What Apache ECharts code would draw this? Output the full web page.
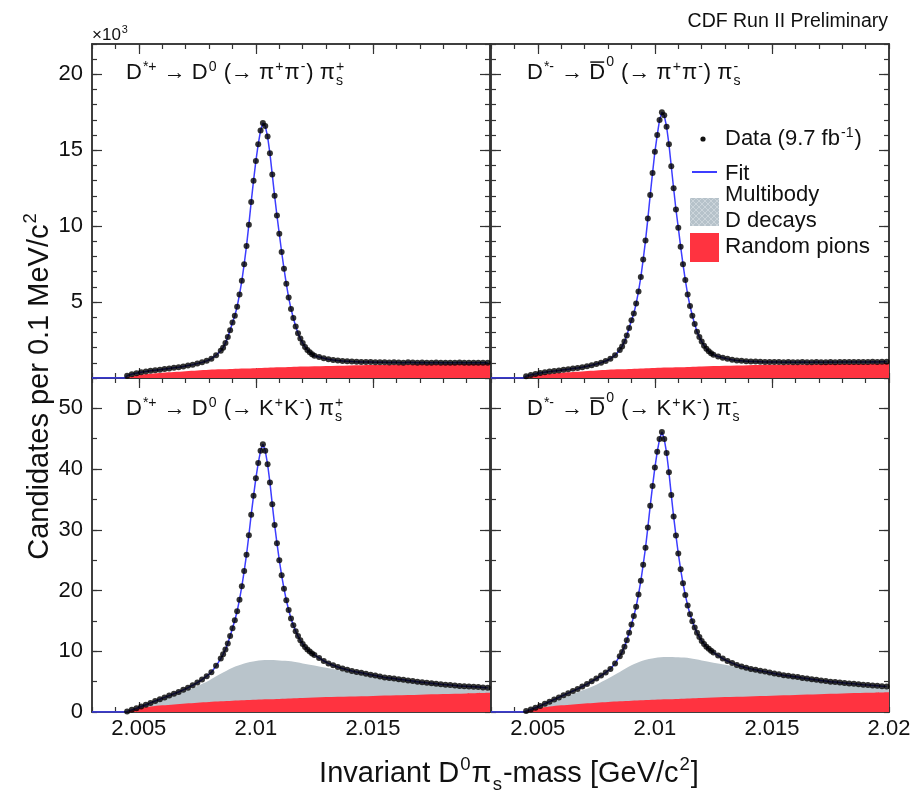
<!DOCTYPE html>
<html>
<head>
<meta charset="utf-8">
<script src="https://cdn.jsdelivr.net/npm/echarts@6/dist/echarts.min.js"></script>
<style>
html, body { margin: 0; background: #fff; }
#main { width: 918px; height: 792px; }
</style>
</head>
<body>
<div id="main"></div>
<script>
// bin centres, GeV/c^2 (0.1 MeV bins in the peak, every other bin in the tails)
var massBins = [
  2.0045, 2.0047, 2.0049, 2.0051, 2.0053, 2.0055, 2.0057, 2.0059, 2.0061, 2.0063,
  2.0065, 2.0067, 2.0069, 2.0071, 2.0073, 2.0075, 2.0077, 2.0079, 2.0081, 2.0083,
  2.0085, 2.0086, 2.0087, 2.0088, 2.0089, 2.0090, 2.0091, 2.0092, 2.0093, 2.0094,
  2.0095, 2.0096, 2.0097, 2.0098, 2.0099, 2.0100, 2.0101, 2.0102, 2.0103, 2.0104,
  2.0105, 2.0106, 2.0107, 2.0108, 2.0109, 2.0110, 2.0111, 2.0112, 2.0113, 2.0114,
  2.0115, 2.0116, 2.0117, 2.0118, 2.0119, 2.0120, 2.0121, 2.0122, 2.0123, 2.0124,
  2.0125,
  2.0127, 2.0129, 2.0131, 2.0133, 2.0135, 2.0137, 2.0139, 2.0141, 2.0143, 2.0145,
  2.0147, 2.0149, 2.0151, 2.0153, 2.0155, 2.0157, 2.0159, 2.0161, 2.0163, 2.0165,
  2.0167, 2.0169, 2.0171, 2.0173, 2.0175, 2.0177, 2.0179, 2.0181, 2.0183, 2.0185,
  2.0187, 2.0189, 2.0191, 2.0193, 2.0195, 2.0197, 2.0199
];

// candidates (x10^3) D*+ -> D0(pi pi) pi_s
var dataPiPiPlus = [
  0.15, 0.25, 0.32, 0.38, 0.43, 0.47, 0.51, 0.55, 0.59, 0.63,
  0.67, 0.71, 0.76, 0.82, 0.88, 0.95, 1.03, 1.13, 1.27, 1.5,
  1.8, 2.0, 2.3, 2.7, 3.15, 3.65, 4.1, 4.7, 5.5, 6.4,
  7.5, 8.7, 10.1, 11.6, 13.0, 14.3, 15.4, 16.3, 16.8, 16.6,
  15.9, 14.8, 13.4, 12.0, 10.7, 9.5, 8.3, 7.2, 6.2, 5.3,
  4.55, 3.95, 3.4, 2.95, 2.6, 2.3, 2.05, 1.85, 1.7, 1.57,
  1.47,
  1.38, 1.3, 1.24, 1.19, 1.15, 1.12, 1.1, 1.08, 1.07, 1.06,
  1.05, 1.05, 1.04, 1.03, 1.04, 1.02, 1.03, 1.02, 1.01, 1.03,
  1.02, 1.0, 1.02, 1.01, 1.0, 1.02, 1.01, 1.0, 1.01, 1.0,
  1.02, 1.0, 1.01, 1.0, 1.01, 1.0, 1.0
];
// D*- -> D0bar(pi pi) pi_s
var dataPiPiMinus = [
  0.12, 0.2, 0.27, 0.33, 0.38, 0.42, 0.46, 0.5, 0.54, 0.58,
  0.62, 0.66, 0.71, 0.77, 0.84, 0.92, 1.01, 1.12, 1.27, 1.5,
  1.85, 2.08, 2.4, 2.8, 3.3, 3.8, 4.25, 4.9, 5.7, 6.65,
  7.8, 9.05, 10.5, 12.05, 13.5, 14.9, 16.0, 17.0, 17.5, 17.3,
  16.55, 15.4, 13.95, 12.5, 11.1, 9.9, 8.65, 7.5, 6.45, 5.5,
  4.75, 4.1, 3.55, 3.05, 2.7, 2.4, 2.13, 1.92, 1.77, 1.63,
  1.53,
  1.42, 1.33, 1.26, 1.2, 1.16, 1.13, 1.11, 1.09, 1.08, 1.07,
  1.06, 1.06, 1.05, 1.05, 1.04, 1.05, 1.04, 1.03, 1.05, 1.04,
  1.04, 1.05, 1.03, 1.04, 1.05, 1.04, 1.05, 1.06, 1.05, 1.05,
  1.06, 1.05, 1.06, 1.07, 1.06, 1.07, 1.07
];
// D*+ -> D0(K K) pi_s
var dataKKPlus = [
  0.1, 0.35, 0.6, 0.9, 1.2, 1.5, 1.8, 2.1, 2.4, 2.7,
  3.0, 3.3, 3.65, 4.0, 4.4, 4.85, 5.35, 5.9, 6.55, 7.6,
  8.8, 9.5, 10.3, 11.3, 12.5, 13.8, 15.1, 16.6, 18.5, 20.7,
  23.2, 25.9, 29.1, 32.5, 35.6, 38.5, 41.0, 43.0, 44.1, 43.0,
  40.8, 37.8, 34.2, 30.8, 27.8, 25.0, 22.5, 20.3, 18.4, 16.8,
  15.4, 14.3, 13.3, 12.5, 11.8, 11.2, 10.7, 10.3, 9.95, 9.65,
  9.4,
  8.9, 8.4, 8.0, 7.7, 7.4, 7.15, 6.95, 6.75, 6.6, 6.45,
  6.3, 6.15, 6.0, 5.85, 5.7, 5.6, 5.5, 5.4, 5.3, 5.2,
  5.1, 5.0, 4.9, 4.8, 4.72, 4.64, 4.56, 4.5, 4.43, 4.37,
  4.3, 4.25, 4.2, 4.15, 4.1, 4.05, 4.0
];
// D*- -> D0bar(K K) pi_s
var dataKKMinus = [
  0.15, 0.4, 0.7, 1.0, 1.35, 1.7, 2.05, 2.4, 2.75, 3.1,
  3.45, 3.8, 4.2, 4.6, 5.05, 5.5, 6.0, 6.5, 7.1, 8.0,
  9.2, 9.9, 10.75, 11.8, 13.05, 14.4, 15.8, 17.35, 19.35, 21.6,
  24.25, 27.05, 30.4, 33.95, 37.2, 40.25, 42.85, 44.95, 46.1, 44.95,
  42.65, 39.5, 35.75, 32.2, 29.05, 26.1, 23.5, 21.2, 19.25, 17.55,
  16.1, 14.95, 13.9, 13.05, 12.35, 11.7, 11.2, 10.75, 10.4, 10.1,
  9.8,
  9.3, 8.8, 8.4, 8.05, 7.75, 7.5, 7.3, 7.1, 6.95, 6.8,
  6.65, 6.5, 6.35, 6.2, 6.05, 5.95, 5.85, 5.75, 5.6, 5.5,
  5.4, 5.3, 5.2, 5.1, 5.0, 4.93, 4.85, 4.78, 4.71, 4.64,
  4.57, 4.5, 4.44, 4.38, 4.32, 4.26, 4.2
];
// fit is zero below threshold
var fitBelowThreshold = [[2.003, 0], [2.0044, 0]];

// background components on a coarse grid
var bkgMass = [2.0044, 2.0046, 2.005, 2.0055, 2.006, 2.0065, 2.007, 2.0075, 2.008, 2.0085, 2.009, 2.0095,
  2.010, 2.0105, 2.011, 2.0115, 2.012, 2.013, 2.014, 2.015, 2.016, 2.017, 2.018, 2.019, 2.020];
var pionsPiPiPlus = [0, 0.08, 0.2, 0.28, 0.35, 0.4, 0.45, 0.5, 0.54, 0.57, 0.6, 0.63,
  0.65, 0.68, 0.7, 0.72, 0.75, 0.79, 0.83, 0.86, 0.88, 0.9, 0.91, 0.92, 0.93];
var pionsPiPiMinus = [0, 0.08, 0.2, 0.28, 0.35, 0.4, 0.45, 0.5, 0.54, 0.57, 0.6, 0.63,
  0.66, 0.69, 0.71, 0.73, 0.76, 0.8, 0.84, 0.87, 0.89, 0.91, 0.92, 0.93, 0.94];
var pionsKKPlus = [0, 0.2, 0.6, 0.9, 1.1, 1.25, 1.4, 1.53, 1.65, 1.75, 1.85, 1.93,
  2.0, 2.08, 2.15, 2.22, 2.3, 2.45, 2.55, 2.65, 2.75, 2.85, 2.95, 3.05, 3.15];
var multibodyKKPlus = [0, 0.05, 0.1, 0.4, 1.0, 1.55, 2.1, 2.77, 3.55, 4.55, 5.45, 6.07,
  6.4, 6.47, 6.35, 6.13, 5.7, 4.85, 4.05, 3.25, 2.55, 1.95, 1.35, 0.85, 0.4];
var pionsKKMinus = [0, 0.2, 0.6, 0.9, 1.1, 1.25, 1.4, 1.53, 1.65, 1.75, 1.85, 1.93,
  2.0, 2.08, 2.15, 2.22, 2.3, 2.45, 2.57, 2.68, 2.8, 2.92, 3.04, 3.15, 3.25];
var multibodyKKMinus = [0, 0.05, 0.15, 0.5, 1.1, 1.75, 2.3, 2.97, 3.85, 4.85, 5.85, 6.57,
  6.9, 6.97, 6.85, 6.63, 6.2, 5.35, 4.53, 3.67, 2.9, 2.23, 1.61, 1.05, 0.55];

// ticks
var xMajorTicks = [2.005, 2.01, 2.015];
var xLabelsLeft = [2.005, 2.01, 2.015];
var xLabelsRight = [2.005, 2.01, 2.015, 2.02];
var yTopTicks = [5, 10, 15, 20];
var yTopLabels = [5, 10, 15, 20];
var yBottomTicks = [10, 20, 30, 40, 50];
var yBottomLabels = [0, 10, 20, 30, 40, 50];

var FONT = '"Liberation Sans", Arial, Helvetica, sans-serif';
var FRAME = '#333';
var INK = '#111';
var RED = '#ff3340';
var BLUE = '#3d3dff';
var GREY = '#b9c4cb';

// hatched fill for the legend box
var hatch = document.createElement('canvas');
hatch.width = 6; hatch.height = 6;
var hc = hatch.getContext('2d');
hc.fillStyle = '#b6c2ca'; hc.fillRect(0, 0, 6, 6);
hc.strokeStyle = '#ccd5db'; hc.lineWidth = 1;
hc.beginPath(); hc.moveTo(0, 6); hc.lineTo(6, 0); hc.moveTo(0, 0); hc.lineTo(6, 6); hc.stroke();
var HATCH = { image: hatch, repeat: 'repeat' };

// ---- text with super/subscripts ----
var mctx = document.createElement('canvas').getContext('2d');
function tw(t, size) { mctx.font = size + 'px ' + FONT; return mctx.measureText(t).width; }
function piece(t, x, base, size) {
  return { type: 'text', x: x, y: base - 0.35 * size, silent: true,
    style: { text: t, font: size + 'px ' + FONT, fill: INK,
      textAlign: 'left', textVerticalAlign: 'middle', align: 'left', verticalAlign: 'middle' } };
}
function formula(segs, size, center) {
  var out = [], x = 0, s2 = size * 0.64;
  segs.forEach(function (s) {
    var t = s[0], k = s[1] || '';
    if (k === '^') { out.push(piece(t, x + 1, -size * 0.42, s2)); x += tw(t, s2) + 2; }
    else if (k === '^^') { out.push(piece(t, x + 1, -size * 0.62, s2)); x += tw(t, s2) + 2; }
    else if (k === '_') { out.push(piece(t, x + 1, size * 0.24, s2)); x += tw(t, s2) + 2; }
    else if (k === '_^') {
      out.push(piece(t, x + 1, size * 0.24, s2));
      out.push(piece(s[2], x + 1, -size * 0.42, s2));
      x += Math.max(tw(t, s2), tw(s[2], s2)) + 2;
    } else if (k === 'bar') {
      var w = tw(t, size);
      out.push(piece(t, x, 0, size));
      out.push({ type: 'line', silent: true, shape: { x1: x + 1, y1: -size * 0.86, x2: x + w - 1, y2: -size * 0.86 },
        style: { stroke: INK, lineWidth: 1.5 } });
      x += w;
    } else { out.push(piece(t, x, 0, size)); x += tw(t, size); }
  });
  if (center) {
    out.forEach(function (e) {
      if (e.type === 'line') { e.shape.x1 -= x / 2; e.shape.x2 -= x / 2; } else { e.x -= x / 2; }
    });
  }
  return out;
}
function label(x, y, segs, size, center, rot) {
  return { type: 'group', x: x, y: y, rotation: rot || 0, children: formula(segs, size, center) };
}

var labPiPiPlus = [['D'], ['*+', '^'], [' \u2192 D'], ['0', '^'], [' (\u2192 \u03c0'], ['+', '^'], ['\u03c0'], ['-', '^'], [') \u03c0'], ['s', '_^', '+']];
var labPiPiMinus = [['D'], ['*-', '^'], [' \u2192 '], ['D', 'bar'], ['0', '^^'], [' (\u2192 \u03c0'], ['+', '^'], ['\u03c0'], ['-', '^'], [') \u03c0'], ['s', '_^', '-']];
var labKKPlus = [['D'], ['*+', '^'], [' \u2192 D'], ['0', '^'], [' (\u2192 K'], ['+', '^'], ['K'], ['-', '^'], [') \u03c0'], ['s', '_^', '+']];
var labKKMinus = [['D'], ['*-', '^'], [' \u2192 '], ['D', 'bar'], ['0', '^^'], [' (\u2192 K'], ['+', '^'], ['K'], ['-', '^'], [') \u03c0'], ['s', '_^', '-']];

var cdfText = 'CDF Run II Preliminary';

var graphics = [
  label(888 - tw(cdfText, 19.5), 28, [[cdfText]], 19.5),
  label(92, 41, [['\u00d710'], ['3', '^']], 17),
  label(126, 81, labPiPiPlus, 22),
  label(527, 81, labPiPiMinus, 22),
  label(126, 417, labKKPlus, 22),
  label(527, 417, labKKMinus, 22),
  label(509, 784, [['Invariant D'], ['0', '^'], ['\u03c0'], ['s', '_'], ['-mass [GeV/c'], ['2', '^'], [']']], 29, true),
  label(50, 386, [['Candidates per 0.1 MeV/c'], ['2', '^']], 29, true, Math.PI / 2),
  // legend
  { type: 'circle', silent: true, shape: { cx: 703, cy: 139, r: 2.6 }, style: { fill: INK } },
  label(725, 147, [['Data (9.7 fb'], ['-1', '^'], [')']], 22),
  { type: 'line', silent: true, shape: { x1: 692, y1: 172, x2: 717, y2: 172 }, style: { stroke: BLUE, lineWidth: 2 } },
  label(725, 182, [['Fit']], 22),
  { type: 'rect', silent: true, shape: { x: 690, y: 198, width: 29, height: 28 }, style: { fill: HATCH } },
  label(725, 203, [['Multibody']], 22),
  label(725, 229, [['D decays']], 22),
  { type: 'rect', silent: true, shape: { x: 690, y: 233, width: 29, height: 29 }, style: { fill: RED } },
  label(725, 255, [['Random pions']], 22.5)
];

// ---- axes ----
var grids = [
  { left: 92, top: 44, width: 398, height: 334 },
  { left: 491, top: 44, width: 398, height: 334 },
  { left: 92, top: 378, width: 398, height: 334 },
  { left: 491, top: 378, width: 398, height: 334 }
];
var tickStyle = { color: FRAME, width: 1.2 };
var axisLine = { show: true, onZero: false, lineStyle: { color: FRAME, width: 1.5 } };
var tickFont = { fontSize: 22, color: INK, fontFamily: FONT };

var xAxes = [], yAxes = [];
function addAxes(g, xLabels, yMax, yMinor, yTicks, yLabels) {
  ['bottom', 'top'].forEach(function (pos) {
    var common = { gridIndex: g, type: 'value', min: 2.003, max: 2.020, position: pos,
      axisLine: axisLine, splitLine: { show: false } };
    xAxes.push(Object.assign({}, common, { interval: 0.001,
      axisTick: { inside: true, length: 5, lineStyle: tickStyle }, axisLabel: { show: false } }));
    var lab = (pos === 'bottom' && xLabels) ?
      Object.assign({ show: true, customValues: xLabels, margin: 6 }, tickFont) : { show: false };
    xAxes.push(Object.assign({}, common, {
      axisTick: { inside: true, length: 10, customValues: xMajorTicks, lineStyle: tickStyle }, axisLabel: lab }));
  });
  ['left', 'right'].forEach(function (pos) {
    var common = { gridIndex: g, type: 'value', min: 0, max: yMax, position: pos,
      axisLine: axisLine, splitLine: { show: false } };
    yAxes.push(Object.assign({}, common, { interval: yMinor,
      axisTick: { inside: true, length: 5, lineStyle: tickStyle }, axisLabel: { show: false } }));
    var lab = (pos === 'left' && yLabels) ?
      Object.assign({ show: true, customValues: yLabels, margin: 9 }, tickFont) : { show: false };
    yAxes.push(Object.assign({}, common, {
      axisTick: { inside: true, length: 10, customValues: yTicks, lineStyle: tickStyle }, axisLabel: lab }));
  });
}
addAxes(0, null, 22, 1, yTopTicks, yTopLabels);
addAxes(1, null, 22, 1, yTopTicks, null);
addAxes(2, xLabelsLeft, 55, 5, yBottomTicks, yBottomLabels);
addAxes(3, xLabelsRight, 55, 5, yBottomTicks, null);

// ---- series ----
function zip(xs, ys) { return xs.map(function (x, i) { return [x, ys[i]]; }); }
function addUp(a, b) { return a.map(function (v, i) { return v + b[i]; }); }
var panels = [
  { g: 0, data: dataPiPiPlus, pions: pionsPiPiPlus, multi: null },
  { g: 1, data: dataPiPiMinus, pions: pionsPiPiMinus, multi: null },
  { g: 2, data: dataKKPlus, pions: pionsKKPlus, multi: multibodyKKPlus },
  { g: 3, data: dataKKMinus, pions: pionsKKMinus, multi: multibodyKKMinus }
];
var series = [];
panels.forEach(function (p) {
  var ax = { xAxisIndex: 4 * p.g, yAxisIndex: 4 * p.g };
  if (p.multi) {
    // multibody drawn stacked on top of the random-pion component
    series.push(Object.assign({ type: 'line', data: zip(bkgMass, addUp(p.pions, p.multi)), smooth: 0.3,
      symbol: 'none', lineStyle: { width: 0 }, areaStyle: { color: GREY, opacity: 1 }, z: 1, silent: true }, ax));
  }
  series.push(Object.assign({ type: 'line', data: zip(bkgMass, p.pions), smooth: 0.3,
    symbol: 'none', lineStyle: { width: 0 }, areaStyle: { color: RED, opacity: 1 }, z: 1, silent: true }, ax));
  series.push(Object.assign({ type: 'line', data: fitBelowThreshold.concat(zip(massBins, p.data)),
    symbol: 'none', lineStyle: { color: BLUE, width: 1.5 }, z: 3, silent: true }, ax));
  series.push(Object.assign({ type: 'scatter', data: zip(massBins, p.data), symbolSize: 6,
    itemStyle: { color: '#000' }, z: 4, silent: true }, ax));
});

var chart = echarts.init(document.getElementById('main'));
chart.setOption({
  animation: false,
  backgroundColor: '#fff',
  grid: grids,
  xAxis: xAxes,
  yAxis: yAxes,
  series: series,
  graphic: { elements: graphics }
});
</script>
</body>
</html>
